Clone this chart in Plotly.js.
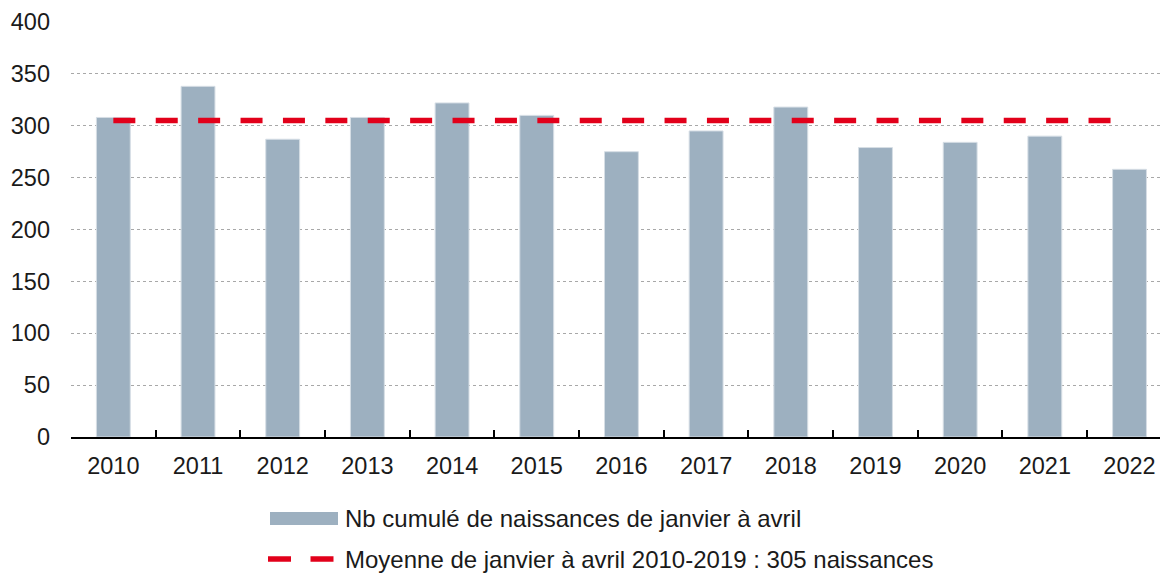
<!DOCTYPE html>
<html>
<head>
<meta charset="utf-8">
<script src="https://cdn.plot.ly/plotly-3.0.1.min.js"></script>
<style>html,body{margin:0;padding:0;background:#fff;}#chart{width:1160px;height:575px;}</style>
</head>
<body>
<div id="chart"></div>
<script>
var years = ['2010','2011','2012','2013','2014','2015','2016','2017','2018','2019','2020','2021','2022'];
var births = [308, 338, 287, 308, 322, 310, 275, 295, 318, 279, 284, 290, 258];
var meanValue = 305;
var barLabel = 'Nb cumulé de naissances de janvier à avril';
var meanLabel = 'Moyenne de janvier à avril 2010-2019 : 305 naissances';
var yTicks = [0, 50, 100, 150, 200, 250, 300, 350, 400];

var W = 1160, H = 575, ML = 71, MR = 0, MT = 22, MB = 138;
var PW = W - ML - MR, PH = H - MT - MB;
function px(x){ return (x - ML) / PW; }
function py(y){ return (H - MB - y) / PH; }

var barColor = '#9DB0C0';
var red = '#E2001A';
var font = 'Liberation Sans, Arial, Helvetica, sans-serif';
var fs = 23.5;
var lfs = 24;
var row1 = 518, row2 = 559;

var traces = [
  {
    type: 'bar', x: years, y: births, name: barLabel,
    marker: {color: barColor, line: {color: '#d6dee5', width: 1}},
    showlegend: false, hoverinfo: 'x+y'
  },
  {
    type: 'scatter', mode: 'lines', x: [years[0], years[years.length-1]], y: [meanValue, meanValue],
    name: meanLabel, line: {color: red, width: 5.5, dash: '22px,20.4px'},
    showlegend: false
  }
];

var layout = {
  width: W, height: H,
  margin: {l: ML, r: MR, t: MT, b: MB, pad: 0},
  paper_bgcolor: '#fff', plot_bgcolor: '#fff',
  font: {family: font, size: fs, color: '#1a1a1a'},
  bargap: 0.6,
  showlegend: false,
  xaxis: {
    type: 'category', range: [-0.5, 12.36],
    showline: true, linecolor: '#000', linewidth: 2,
    ticks: 'inside', ticklen: 7, tickwidth: 1.5, tickcolor: '#000',
    tickson: 'boundaries', showgrid: false, zeroline: false,
    tickfont: {family: font, size: fs, color: '#1a1a1a'},
    ticklabelstandoff: 7,
    fixedrange: true
  },
  yaxis: {
    range: [0, 400], tickvals: yTicks, ticktext: yTicks.map(String),
    showline: false, zeroline: false, ticks: '',
    showgrid: true, gridcolor: '#a8a8a8', gridwidth: 1, griddash: 'dot',
    tickfont: {family: font, size: fs, color: '#1a1a1a'},
    ticklabelstandoff: 20,
    fixedrange: true
  },
  shapes: [
    {type: 'rect', xref: 'paper', yref: 'paper', x0: px(270), x1: px(338), y0: py(row1 - 6), y1: py(row1 + 7),
     fillcolor: barColor, line: {width: 0}},
    {type: 'line', xref: 'paper', yref: 'paper', x0: px(268), x1: px(291), y0: py(row2), y1: py(row2),
     line: {color: red, width: 5.5}},
    {type: 'line', xref: 'paper', yref: 'paper', x0: px(310.5), x1: px(333.5), y0: py(row2), y1: py(row2),
     line: {color: red, width: 5.5}}
  ],
  annotations: [
    {xref: 'paper', yref: 'paper', x: px(343), y: py(row1), xanchor: 'left', yanchor: 'middle',
     text: barLabel, showarrow: false, font: {family: font, size: lfs, color: '#1a1a1a'}},
    {xref: 'paper', yref: 'paper', x: px(343), y: py(row2), xanchor: 'left', yanchor: 'middle',
     text: meanLabel, showarrow: false, font: {family: font, size: lfs, color: '#1a1a1a'}}
  ]
};

Plotly.newPlot('chart', traces, layout, {displayModeBar: false});
</script>
</body>
</html>
